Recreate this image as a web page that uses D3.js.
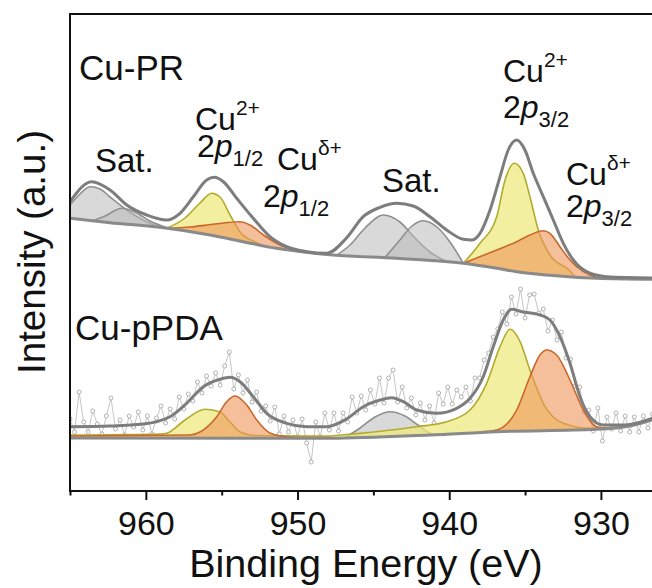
<!DOCTYPE html>
<html><head><meta charset="utf-8">
<script src="https://cdn.jsdelivr.net/npm/d3@7"></script>
<style>
html,body{margin:0;padding:0;background:#fff;}
svg{display:block;font-family:"Liberation Sans",Arial,sans-serif;}
</style></head>
<body><svg id="c" width="652" height="588"></svg>
<script>
// ---------- DATA (binding energy eV, intensity a.u.) ----------
const majorTicks = [960, 950, 940, 930];
const minorTicks = [965, 955, 945, 935, 925];

// Cu-PR
const prEnvelope = [[965,288.3],[963.57,308.3],[962.36,300],[961.26,285],[959.94,275],[958.63,270],[957.75,276.7],[956.87,293.3],[955.99,310],[955.49,312.7],[954.89,308.3],[954.01,291.7],[952.92,271.7],[951.82,253.3],[950.72,243.3],[949.4,238.3],[948.08,236.7],[946.77,252],[945.67,273.3],[944.56,282.7],[943.46,286.7],[942.37,284],[941.27,273.3],[940.17,260],[939.07,250.7],[938.52,250],[937.97,256.7],[937.31,280],[936.65,313.3],[936.11,340],[935.55,350],[935.01,340],[934.46,316.7],[933.8,293.3],[933.14,270],[932.48,246.7],[931.82,230],[930.94,218.3],[929.62,213.3],[926.63,212]];
const prBackground = [[965,271.7],[962.36,267.3],[959.07,262.7],[955.77,255],[953.58,248.3],[951.38,241.7],[949.18,237.3],[947.66,235],[943.46,231.7],[939.07,226.7],[936.87,221.7],[935.55,218.3],[933.58,215],[930.28,211.7],[926.63,210.7]];
const prSatA = [[965,285],[964.34,296],[963.68,303.3],[963.02,301],[962.36,293],[961.26,280],[960.19,270],[959.07,262.7]];
const prSatB = [[963.48,269.2],[962.69,274],[961.59,281.7],[960.72,278],[959.73,269],[958.41,261.2]];
const prCu2p12 = [[958.63,261.7],[957.42,272],[956.43,287],[955.66,296.7],[955.11,293],[954.45,275],[953.79,258],[952.8,248],[952.34,245]];
const prCud2p12 = [[958.63,261.7],[957.09,263],[955.44,266],[953.79,268.3],[953.13,265],[952.15,254],[951.16,245],[950.17,240],[949.51,238]];
const prSatC = [[947.42,234.8],[946.54,245],[945.55,262],[944.35,275],[943.25,268],[942.26,252],[941.27,238],[940.28,229.3]];
const prSatD = [[944.23,232.6],[943.25,250],[942.46,264],[941.71,269.3],[940.81,263],[939.95,248],[939.07,226.7]];
const prCu2p32 = [[939.07,226.7],[937.97,246.7],[936.87,273.3],[936.32,310],[935.71,326.7],[935.12,316.7],[934.68,293.3],[934.13,260],[933.36,235],[932.04,219],[931.71,213.2]];
const prCud2p32 = [[939.07,226.7],[936.87,240],[935.55,248.3],[934.68,255],[933.8,259.3],[933.36,256.7],[932.7,243.3],[932.04,230],[931.16,218.3],[930.28,212.7],[929.73,211.5]];

// Cu-pPDA
const pdaEnvelope = [[965,63.3],[962.36,64],[960.17,66],[958.41,73.3],[957.31,86.7],[956.21,103.3],[955.11,110.7],[954.45,112.7],[953.79,108.3],[952.92,93.3],[952.03,76.7],[950.71,66.7],[949.4,63.3],[948.08,63.3],[946.77,71],[945.67,83.3],[944.56,90],[943.79,92.3],[943.03,88.3],[942.15,80],[940.83,76.7],[939.51,81.7],[938.63,91.7],[937.76,113.3],[937.1,143.3],[936.44,170],[935.88,180.7],[935.22,178.3],[934.02,175],[933.36,170],[932.7,153.3],[932.04,126.7],[931.38,93.3],[930.72,73.3],[929.84,65],[928.53,65],[926.63,71.7]];
const pdaBackground = [[965,52],[947.86,51.7],[941.27,55],[936.87,58.3],[930.28,60.7],[928.08,64],[926.63,70]];
const pdaCu2p12 = [[965,55],[959.07,56],[958.63,56.7],[957.42,70],[956.1,80.7],[955.11,78],[954.45,68],[953.79,58],[952.8,54.5],[947.86,54]];
const pdaCud2p12 = [[965,54],[957.09,55],[956.43,58],[955.33,73.3],[954.67,88.3],[954.12,94],[953.35,85],[952.69,70],[951.82,57],[950.5,53],[947.86,52.5]];
const pdaSat = [[946.87,52.3],[945.88,62],[944.89,73],[943.9,78.3],[942.92,74],[942.06,65],[941.14,56],[940.28,54.5]];
const pdaCu2p32 = [[947.86,54],[942.15,63.3],[940.17,68.3],[938.63,80],[937.53,106.7],[936.65,143.3],[935.99,160.7],[935.33,148.3],[934.68,120],[933.8,86.7],[932.48,66.7],[930.72,61.7],[927.43,66.7],[926.63,71]];
const pdaCud2p32 = [[937.97,58],[936.87,60],[935.55,80],[934.68,113.3],[934.02,135],[933.58,140],[932.92,135],[932.04,110],[931.16,80],[930.28,63.3],[929.4,61.6]];

const pdaRawEnergy = [965.0,964.7,964.4,964.1,963.8,963.5,963.2,962.9,962.6,962.3,
962.0,961.7,961.4,961.1,960.8,960.5,960.2,959.9,959.6,959.3,
959.0,958.7,958.4,958.1,957.8,957.5,957.2,956.9,956.6,956.3,
956.0,955.7,955.4,955.1,954.8,954.5,954.2,953.9,953.6,953.3,
953.0,952.7,952.4,952.1,951.8,951.5,951.2,950.9,950.6,950.3,
950.0,949.7,949.4,949.1,948.8,948.5,948.2,947.9,947.6,947.3,
947.0,946.7,946.4,946.1,945.8,945.5,945.2,944.9,944.6,944.3,
944.0,943.7,943.4,943.1,942.8,942.5,942.2,941.9,941.6,941.3,
941.0,940.7,940.4,940.1,939.8,939.5,939.2,938.9,938.6,938.3,
938.0,937.7,937.4,937.1,936.8,936.5,936.2,935.9,935.6,935.3,
935.0,934.7,934.4,934.1,933.8,933.5,933.2,932.9,932.6,932.3,
932.0,931.7,931.4,931.1,930.8,930.5,930.2,929.9,929.6,929.3,
929.0,928.7,928.4,928.1,927.8,927.5,927.2,926.9,926.6];
const pdaRawIntensity = [71,58,98,68,58,79,66,56,74,92,
61,70,55,74,63,78,60,74,56,72,
84,67,81,71,93,81,96,89,108,97,
114,104,117,105,124,138,101,115,97,110,
88,98,79,84,69,83,56,74,58,70,
53,71,47,28,68,53,77,60,77,59,
77,68,93,77,94,80,100,86,112,87,
112,120,88,103,82,92,75,87,70,84,
67,97,86,103,86,100,93,103,89,112,
112,130,137,153,161,178,166,193,176,201,
172,195,196,177,181,159,170,150,158,132,
131,104,103,78,80,59,82,49,73,61,
77,59,74,58,73,58,74,62,76];

const sampleLabels = ["Cu-PR", "Cu-pPDA"];

// ---------- CHART ----------
const svg = d3.select("#c");
const x = d3.scaleLinear().domain([965, 926]).range([70, 661.6]);
const y = d3.scaleLinear().domain([0, 476]).range([490, 14]);

const defs = svg.append("defs");
defs.append("clipPath").attr("id","clip").append("rect")
  .attr("x",70).attr("y",14).attr("width",592).attr("height",477);
const g = svg.append("g").attr("clip-path","url(#clip)");

function interp(arr, e){
  for(let i=0;i<arr.length-1;i++){
    const a=arr[i], b=arr[i+1];
    if(e<=a[0] && e>=b[0]){ const t=(a[0]-e)/(a[0]-b[0]); return a[1]+(b[1]-a[1])*t; }
  }
  return e>arr[0][0]?arr[0][1]:arr[arr.length-1][1];
}
const curve = d3.curveMonotoneX;
const line = d3.line().x(d=>x(d[0])).y(d=>y(d[1])).curve(curve);

const styles = {
  gray:   {fill:"rgba(185,185,185,0.55)", stroke:"#8f8f8f"},
  yellow: {fill:"rgba(239,233,125,0.72)", stroke:"#b3ab2e"},
  orange: {fill:"rgba(238,148,88,0.6)",  stroke:"#c9682c"}
};
function component(data, bg, st){
  const area = d3.area().x(d=>x(d[0])).y1(d=>y(d[1])).y0(d=>y(interp(bg,d[0]))).curve(curve);
  g.append("path").datum(data).attr("d",area).attr("fill",styles[st].fill).attr("stroke","none");
  g.append("path").datum(data).attr("d",line).attr("fill","none")
    .attr("stroke",styles[st].stroke).attr("stroke-width",1.6);
}

// Cu-PR components
component(prSatA, prBackground, "gray");
component(prSatB, prBackground, "gray");
component(prCu2p12, prBackground, "yellow");
component(prCud2p12, prBackground, "orange");
component(prSatC, prBackground, "gray");
component(prSatD, prBackground, "gray");
component(prCu2p32, prBackground, "yellow");
component(prCud2p32, prBackground, "orange");
g.append("path").datum(prBackground).attr("d",line).attr("fill","none").attr("stroke","#8a8a8a").attr("stroke-width",3);
g.append("path").datum(prEnvelope).attr("d",line).attr("fill","none").attr("stroke","#7d7d7d").attr("stroke-width",3);

// Cu-pPDA raw data
const raw = pdaRawEnergy.map((e,i)=>[e, pdaRawIntensity[i]]);
g.append("path").datum(raw).attr("d", d3.line().x(d=>x(d[0])).y(d=>y(d[1])))
  .attr("fill","none").attr("stroke","#c6c6c6").attr("stroke-width",1);
g.selectAll("circle.raw").data(raw).join("circle").attr("class","raw")
  .attr("cx",d=>x(d[0])).attr("cy",d=>y(d[1])).attr("r",2)
  .attr("fill","#fff").attr("stroke","#a0a0a0").attr("stroke-width",0.8);

// Cu-pPDA components
component(pdaCu2p12, pdaBackground, "yellow");
component(pdaCud2p12, pdaBackground, "orange");
component(pdaSat, pdaBackground, "gray");
component(pdaCu2p32, pdaBackground, "yellow");
component(pdaCud2p32, pdaBackground, "orange");
g.append("path").datum(pdaBackground).attr("d",line).attr("fill","none").attr("stroke","#8a8a8a").attr("stroke-width",3);
g.append("path").datum(pdaEnvelope).attr("d",line).attr("fill","none").attr("stroke","#7d7d7d").attr("stroke-width",3);

// Axes / frame
svg.append("line").attr("x1",69).attr("x2",662).attr("y1",14).attr("y2",14).attr("stroke","#111").attr("stroke-width",2);
svg.append("line").attr("x1",70).attr("x2",70).attr("y1",13).attr("y2",491).attr("stroke","#111").attr("stroke-width",2);

const axMinor = svg.append("g").attr("transform","translate(0,491)")
  .call(d3.axisBottom(x).tickValues(minorTicks).tickSize(4.5).tickFormat(""));
const axMajor = svg.append("g").attr("transform","translate(0,491)")
  .call(d3.axisBottom(x).tickValues(majorTicks).tickSize(9).tickPadding(11).tickFormat(d3.format("d")));
[axMinor, axMajor].forEach(a=>{
  a.select(".domain").attr("stroke","#111").attr("stroke-width",2).attr("d","M69,0H662");
  a.selectAll(".tick line").attr("stroke","#111").attr("stroke-width",2);
});
axMajor.selectAll(".tick text").attr("font-size",34).attr("fill","#111")
  .attr("font-family","'Liberation Sans',Arial,sans-serif");

svg.append("text").attr("x",366).attr("y",577).attr("text-anchor","middle")
  .attr("font-size",39.5).attr("fill","#111").text("Binding Energy (eV)");
svg.append("text").attr("transform","translate(45,252) rotate(-90)").attr("text-anchor","middle")
  .attr("font-size",38.5).attr("fill","#111").text("Intensity (a.u.)");

// Annotations
const ann = svg.append("g").attr("fill","#111");
ann.append("text").attr("x",79).attr("y",80).attr("font-size",35).text(sampleLabels[0]);
ann.append("text").attr("x",75).attr("y",340).attr("font-size",35).text(sampleLabels[1]);

// two-line peak label in one text element: "Cu<sup>" then "2p<sub>"
function peakLabel(x1, y1, sup, x2, y2, sub){
  const t = ann.append("text").attr("x",x1).attr("y",y1).attr("font-size",32);
  t.append("tspan").text("Cu");
  t.append("tspan").attr("font-size",21).attr("dy",-15).text(sup);
  t.append("tspan").attr("x",x2).attr("y",y2).text("2");
  t.append("tspan").attr("font-style","italic").text("p");
  t.append("tspan").attr("font-size",22).attr("dy",9).text(sub);
}
function plain(xp, yp, s){ ann.append("text").attr("x",xp).attr("y",yp).attr("font-size",33).text(s); }

plain(95,172,"Sat.");
peakLabel(195,130,"2+",197,157,"1/2");
peakLabel(277,170,"δ+",263,207,"1/2");
plain(382,192,"Sat.");
peakLabel(503,82,"2+",503,118,"3/2");
peakLabel(566,185,"δ+",566,217,"3/2");
</script></body></html>
